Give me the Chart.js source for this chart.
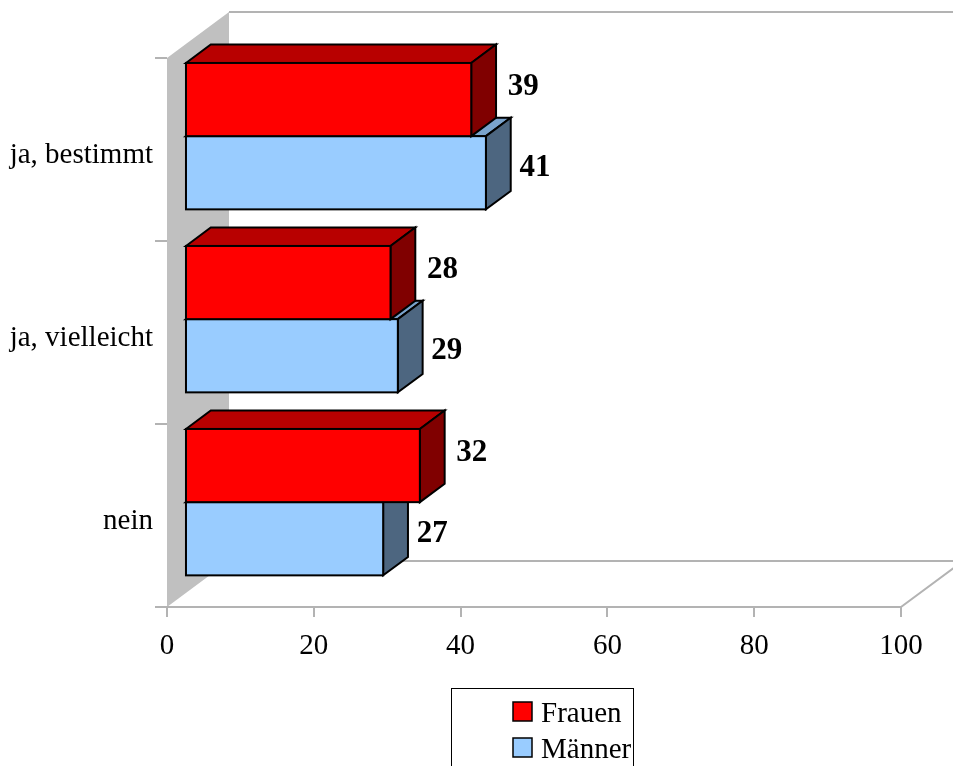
<!DOCTYPE html>
<html>
<head>
<meta charset="utf-8">
<script src="https://cdn.jsdelivr.net/npm/chart.js@4.4.0/dist/chart.umd.min.js"></script>
<style>
  html, body { margin: 0; padding: 0; background: #fff; }
  canvas { display: block; }
</style>
</head>
<body>
<canvas id="myChart" width="953" height="766"></canvas>
<script>
// Data
const categories = ['ja, bestimmt', 'ja, vielleicht', 'nein'];
const frauen = [39, 28, 32];
const maenner = [41, 29, 27];
const seriesNames = ['Frauen', 'Männer'];
const xMin = 0, xMax = 100, xStep = 20;

// face colours of the boxes (front / top / side)
const shades = [
  { front: '#ff0000', top: '#b80000', side: '#800000' },
  { front: '#99ccff', top: '#7aa3cc', side: '#4d6680' }
];
// where the value label sits relative to the bar end
const labelShift = [ { x: 52, y: -13 }, { x: 49, y: -5 } ];

const gridGrey = '#b3b3b3';
const wallGrey = '#c0c0c0';
const serif = '"Liberation Serif", "Times New Roman", serif';

// depth of the whole plot box, bars sit in the middle of it
const DEPTH_X = 62, DEPTH_Y = -46;
const BAR_START = 0.29, BAR_DEPTH = 0.4;

const box3d = {
  id: 'box3d',
  beforeDraw(chart) {
    const ctx = chart.ctx, a = chart.chartArea;
    ctx.save();
    // left wall
    ctx.fillStyle = wallGrey;
    ctx.beginPath();
    ctx.moveTo(a.left, a.top);
    ctx.lineTo(a.left + DEPTH_X, a.top + DEPTH_Y);
    ctx.lineTo(a.left + DEPTH_X, a.bottom + DEPTH_Y);
    ctx.lineTo(a.left, a.bottom);
    ctx.closePath();
    ctx.fill();
    // back wall top edge and floor outline
    ctx.strokeStyle = gridGrey;
    ctx.lineWidth = 2;
    ctx.beginPath();
    ctx.moveTo(a.left + DEPTH_X, a.top + DEPTH_Y);
    ctx.lineTo(a.right + DEPTH_X, a.top + DEPTH_Y);
    ctx.moveTo(a.left + DEPTH_X, a.bottom + DEPTH_Y);
    ctx.lineTo(a.right + DEPTH_X, a.bottom + DEPTH_Y);
    ctx.moveTo(a.right, a.bottom);
    ctx.lineTo(a.right + DEPTH_X, a.bottom + DEPTH_Y);
    ctx.stroke();
    ctx.restore();
  },
  afterDatasetsDraw(chart) {
    const ctx = chart.ctx;
    const fx = DEPTH_X * BAR_START, fy = DEPTH_Y * BAR_START;
    const bx = DEPTH_X * BAR_DEPTH, by = DEPTH_Y * BAR_DEPTH;
    ctx.save();
    ctx.lineWidth = 2;
    ctx.strokeStyle = '#000';
    ctx.lineJoin = 'miter';
    categories.forEach(function (cat, i) {
      // lower bar first so the upper one covers its top face
      [1, 0].forEach(function (d) {
        const el = chart.getDatasetMeta(d).data[i];
        const p = el.getProps(['x', 'y', 'base', 'height'], true);
        const x0 = p.base + fx, x1 = p.x + fx;
        const y0 = p.y - p.height / 2 + fy, y1 = p.y + p.height / 2 + fy;
        const c = shades[d];

        ctx.fillStyle = c.top;
        ctx.beginPath();
        ctx.moveTo(x0, y0);
        ctx.lineTo(x0 + bx, y0 + by);
        ctx.lineTo(x1 + bx, y0 + by);
        ctx.lineTo(x1, y0);
        ctx.closePath();
        ctx.fill();
        ctx.stroke();

        ctx.fillStyle = c.side;
        ctx.beginPath();
        ctx.moveTo(x1, y0);
        ctx.lineTo(x1 + bx, y0 + by);
        ctx.lineTo(x1 + bx, y1 + by);
        ctx.lineTo(x1, y1);
        ctx.closePath();
        ctx.fill();
        ctx.stroke();

        ctx.fillStyle = c.front;
        ctx.fillRect(x0, y0, x1 - x0, y1 - y0);
        ctx.strokeRect(x0, y0, x1 - x0, y1 - y0);

        // value label
        const v = chart.data.datasets[d].data[i];
        ctx.fillStyle = '#000';
        ctx.font = 'bold 31px ' + serif;
        ctx.textAlign = 'center';
        ctx.textBaseline = 'middle';
        ctx.fillText(String(v), x1 + labelShift[d].x, (y0 + y1) / 2 + labelShift[d].y);
      });
    });
    ctx.restore();
  },
  afterDraw(chart) {
    // framed legend under the axis
    const ctx = chart.ctx, a = chart.chartArea;
    const cx = (a.left + a.right) / 2 + 8;
    const left = cx - 91, top = 688;
    ctx.save();
    ctx.strokeStyle = '#000';
    ctx.lineWidth = 1;
    ctx.strokeRect(left + 0.5, top + 0.5, 182, 120);
    ctx.font = '29px ' + serif;
    ctx.textAlign = 'left';
    ctx.textBaseline = 'alphabetic';
    seriesNames.forEach(function (name, k) {
      const sy = top + 14 + k * 36;
      ctx.fillStyle = shades[k].front;
      ctx.fillRect(left + 62, sy, 19, 19);
      ctx.lineWidth = 1.5;
      ctx.strokeRect(left + 62, sy, 19, 19);
      ctx.fillStyle = '#000';
      ctx.fillText(name, left + 90, sy + 20);
    });
    ctx.restore();
  }
};

const data = {
  labels: categories,
  datasets: [
    { label: seriesNames[0], data: frauen, backgroundColor: 'rgba(0,0,0,0)', borderWidth: 0 },
    { label: seriesNames[1], data: maenner, backgroundColor: 'rgba(0,0,0,0)', borderWidth: 0 }
  ]
};

const config = {
  type: 'bar',
  data: data,
  options: {
    indexAxis: 'y',
    responsive: false,
    devicePixelRatio: 1,
    animation: false,
    layout: { padding: { top: 58, right: 52, bottom: 0, left: 0 } },
    datasets: { bar: { categoryPercentage: 0.8, barPercentage: 1.0 } },
    plugins: {
      legend: { display: false },
      tooltip: { enabled: false }
    },
    scales: {
      x: {
        min: xMin,
        max: xMax,
        ticks: { stepSize: xStep, color: '#000', padding: 12, font: { family: serif, size: 29 } },
        grid: { drawOnChartArea: false, tickLength: 10, color: gridGrey, lineWidth: 2 },
        border: { color: gridGrey, width: 2 },
        afterFit: function (s) { s.height = 159; }
      },
      y: {
        ticks: { color: '#000', padding: 2, labelOffset: 6, font: { family: serif, size: 29 } },
        grid: { offset: true, drawOnChartArea: false, tickLength: 12, color: gridGrey, lineWidth: 2 },
        border: { display: false },
        afterFit: function (s) { s.width = 167; }
      }
    }
  },
  plugins: [box3d]
};

const ctx = document.getElementById('myChart').getContext('2d');
const chart = new Chart(ctx, config);
</script>
</body>
</html>
